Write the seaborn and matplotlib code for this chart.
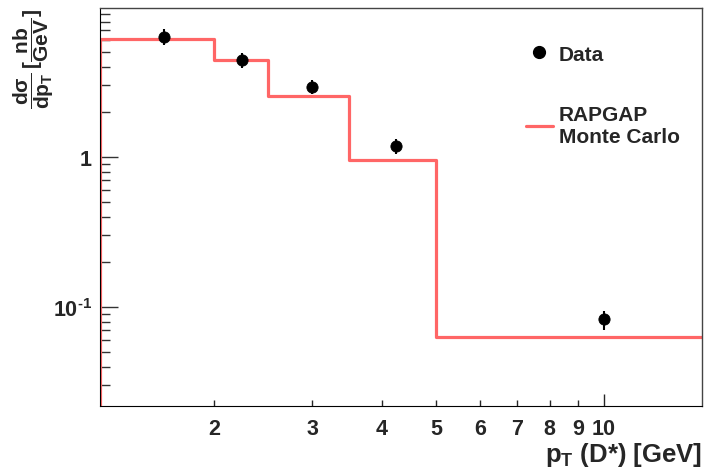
import matplotlib
matplotlib.use("Agg")
import matplotlib.pyplot as plt
from matplotlib.lines import Line2D
from matplotlib.ticker import FixedLocator, NullFormatter, FixedFormatter
import seaborn as sns
import pandas as pd

# bin edges of p_T(D*) [GeV] and RAPGAP Monte Carlo prediction per bin
bin_edges = [1.25, 2.0, 2.5, 3.5, 5.0, 15.0]
mc_values = [6.15, 4.41, 2.56, 0.95, 0.0628]

# measured points
data_pt = [1.625, 2.25, 3.0, 4.25, 10.0]
data_xs = [6.34, 4.45, 2.94, 1.18, 0.0828]
data_err = [0.75, 0.5, 0.3, 0.13, 0.012]

y_lim = (0.0219, 9.85)

sns.set_style("white")
plt.rcParams["font.family"] = ["Liberation Sans", "DejaVu Sans"]
plt.rcParams["font.weight"] = "bold"
plt.rcParams["mathtext.fontset"] = "custom"
plt.rcParams["mathtext.rm"] = "Liberation Sans:bold"
plt.rcParams["mathtext.it"] = "Liberation Sans:bold"
plt.rcParams["mathtext.bf"] = "Liberation Sans:bold"
plt.rcParams["mathtext.sf"] = "Liberation Sans:bold"

fig = plt.figure(figsize=(7.04, 4.77), dpi=100)
ax = fig.add_axes([100 / 704, 1 - 407 / 477, 602 / 704, 398 / 477])
ax.set_xscale("log")
ax.set_yscale("log")

# histogram outline (drawn down to the axis floor on the left)
hist_x = [bin_edges[0]] + bin_edges
hist_y = [y_lim[0]] + mc_values + [mc_values[-1]]
mc_df = pd.DataFrame({"x": hist_x, "y": hist_y})
sns.lineplot(data=mc_df, x="x", y="y", ax=ax, color="#ff6666", lw=2.3,
             drawstyle="steps-post", estimator=None, sort=False, zorder=2)

data_df = pd.DataFrame({"pt": data_pt, "xs": data_xs})
ax.errorbar(data_pt, data_xs, yerr=data_err, fmt="none", ecolor="black",
            elinewidth=1.5, zorder=3)
sns.scatterplot(data=data_df, x="pt", y="xs", ax=ax, color="black", s=65,
                marker="o", edgecolor="black", zorder=4)

ax.set_xlim(bin_edges[0], bin_edges[-1])
ax.set_ylim(*y_lim)

# x ticks in ROOT style: 10 major, 2..9 short with labels
ax.xaxis.set_major_locator(FixedLocator([10]))
ax.xaxis.set_major_formatter(FixedFormatter(["10"]))
ax.xaxis.set_minor_locator(FixedLocator([2, 3, 4, 5, 6, 7, 8, 9]))
ax.xaxis.set_minor_formatter(FixedFormatter(["2", "3", "4", "5", "6", "7", "8", "9"]))
ax.tick_params(axis="x", which="major", direction="in", length=9, width=1,
               labelsize=15.5, pad=9, bottom=True, top=False)
ax.tick_params(axis="x", which="minor", direction="in", length=4, width=1,
               labelsize=15.5, pad=9, bottom=True, top=False)

ax.yaxis.set_major_locator(FixedLocator([0.1, 1]))
ax.yaxis.set_major_formatter(FixedFormatter([r"$10^{\text{-}1}$", "1"]))
y_minor = [k * 0.01 for k in range(3, 10)] + [k * 0.1 for k in range(2, 10)] + [k * 1.0 for k in range(2, 10)]
ax.yaxis.set_minor_locator(FixedLocator(y_minor))
ax.yaxis.set_minor_formatter(NullFormatter())
ax.tick_params(axis="y", which="major", direction="in", length=13, width=1,
               labelsize=15.5, pad=6, left=True, right=False, color="#333333")
ax.tick_params(axis="y", which="minor", direction="in", length=7, width=1,
               left=True, right=False, color="#333333")

for side in ["top", "right"]:
    ax.spines[side].set_color("#444444")
    ax.spines[side].set_linewidth(1)
ax.spines["bottom"].set_color("black")
ax.spines["left"].set_color("black")

ax.set_xlabel(r"p$_{\mathregular{T}}$ (D*) [GeV]", fontsize=18.5, fontweight="bold")
ax.xaxis.set_label_coords(1.0, -0.085)
ax.xaxis.label.set_horizontalalignment("right")
ax.set_ylabel(r"$\dfrac{d\sigma}{dp_{T}}\,[\dfrac{nb}{GeV}]$", fontsize=15)
ax.yaxis.set_label_coords(-0.11, 1.0)
ax.yaxis.label.set_verticalalignment("center")
ax.yaxis.label.set_horizontalalignment("right")

handles = [
    Line2D([], [], marker="o", color="black", ls="none", markersize=8.5),
    Line2D([], [], color="#ff6666", lw=2.3),
]
ax.legend(handles, ["Data", "RAPGAP\nMonte Carlo"], loc="upper left",
          bbox_to_anchor=(0.676, 0.955), frameon=False, fontsize=15,
          handlelength=1.3, handletextpad=0.3, labelspacing=2.0)

fig.savefig("out.png", dpi=100)
